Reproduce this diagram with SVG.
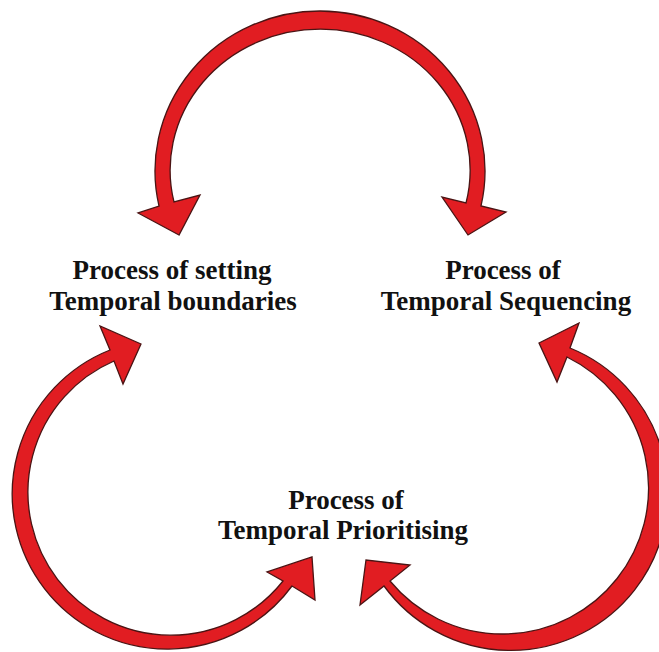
<svg xmlns="http://www.w3.org/2000/svg" width="659" height="652" viewBox="0 0 659 652">
  <style>
    .arrow { fill: #e11d22; stroke: #4a1414; stroke-width: 1.3; stroke-linejoin: miter; }
    .label { font-family: "Liberation Serif", "Times New Roman", serif; font-weight: bold; font-size: 27px; fill: #111; text-anchor: middle; }
  </style>
  <rect width="659" height="652" fill="#ffffff"/>

  <!-- curved double-headed arrows linking the three processes -->
  <g id="connectors">
    <!-- top arc: boundaries <-> sequencing -->
    <path id="arc-top" class="arrow" d="M 179,235 L 138,213 L 159,206 A 165 160 0 1 1 481,206 L 506,212 L 468,235 L 442,197 L 466,203 A 150 141 0 1 0 174,202 L 200,195 Z"/>
    <!-- left arc: boundaries <-> prioritising -->
    <path id="arc-left" class="arrow" d="M 141,344 L 123,384 L 114,361 A 143 143 0 1 0 283,581 L 267,572 L 312,557 L 315,600 L 292,586 A 155 155 0 1 1 110,350 L 100,326 Z"/>
    <!-- right arc: sequencing <-> prioritising -->
    <path id="arc-right" class="arrow" d="M 539,343 L 579,323 L 570,348 A 157 157 0 1 1 384,586 L 360,605 L 366,560 L 410,565 L 390,581 A 146 146 0 1 0 567,357 L 557,382 Z"/>
  </g>

  <g id="node-boundaries">
    <text class="label" x="172" y="279">Process of setting</text>
    <text class="label" x="173" y="310">Temporal boundaries</text>
  </g>

  <g id="node-sequencing">
    <text class="label" x="503" y="279">Process of</text>
    <text class="label" x="506" y="310">Temporal Sequencing</text>
  </g>

  <g id="node-prioritising">
    <text class="label" x="346" y="509">Process of</text>
    <text class="label" x="343" y="539">Temporal Prioritising</text>
  </g>
</svg>
